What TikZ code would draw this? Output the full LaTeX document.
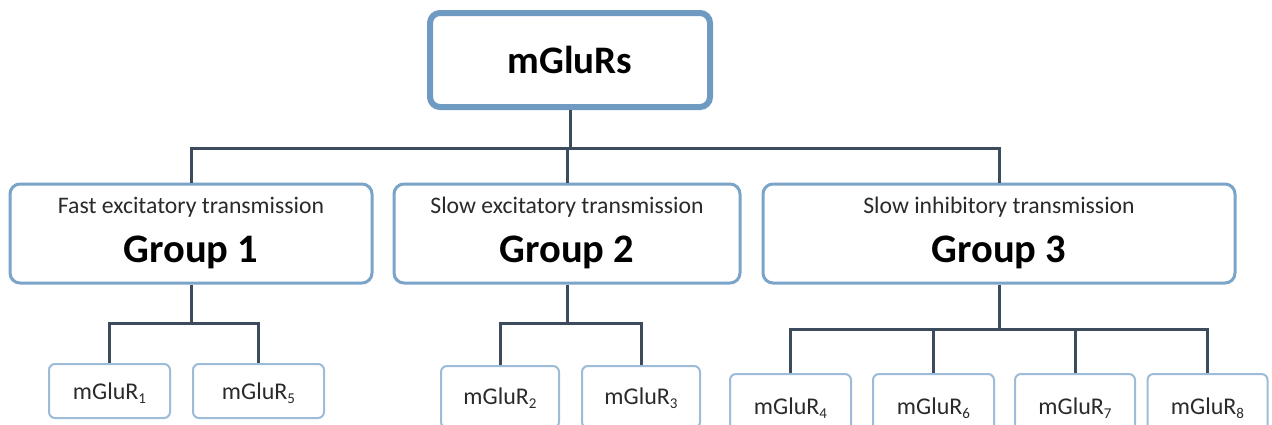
\documentclass[tikz,border=0pt]{standalone}
\usepackage{fontspec}
\setmainfont{Carlito}
\definecolor{topblue}{HTML}{6F9BC2}
\definecolor{grpblue}{HTML}{7BA4C9}
\definecolor{leafblue}{HTML}{9CBCD9}
\definecolor{conn}{HTML}{3C4C5C}
\definecolor{txt}{HTML}{2A2A2A}
\newcommand{\lsub}[1]{\raisebox{-4pt}{\fontsize{15}{15}\selectfont #1}}
\tikzset{
  topbox/.style={draw=topblue, line width=6pt, rounded corners=10pt, fill=white, inner sep=0pt},
  grpbox/.style={draw=grpblue, line width=3pt, rounded corners=10pt, fill=white, inner sep=0pt},
  leafbox/.style={draw=leafblue, line width=2pt, rounded corners=6pt, fill=white, inner sep=0pt},
  connline/.style={draw=conn, line width=3pt},
  subtxt/.style={anchor=base, inner sep=0pt, text=txt, font=\fontsize{23.7}{25}\selectfont},
  grptxt/.style={anchor=base, inner sep=0pt, text=black, font=\fontsize{40.5}{42}\selectfont\bfseries},
  leaftxt/.style={anchor=base, inner sep=0pt, text=txt, font=\fontsize{24}{26}\selectfont},
}
\begin{document}
\begin{tikzpicture}[x=1pt,y=-1pt]
\clip (0,0) rectangle (1272,424);
\fill[white] (0,0) rectangle (1272,424);

% top
\node[topbox, minimum width=280pt, minimum height=94pt] (top) at (570,60) {};
\node[anchor=base, inner sep=0pt, font=\fontsize{39}{41}\selectfont\bfseries] (toptxt) at (570,73) {mGluRs};

% groups
\node[grpbox, minimum width=362pt, minimum height=99pt] (g1) at (191,233.5) {};
\node[grpbox, minimum width=346pt, minimum height=99pt] (g2) at (567,233.5) {};
\node[grpbox, minimum width=472pt, minimum height=99pt] (g3) at (999,233.5) {};
\node[subtxt] (g1s) at (191,213) {Fast excitatory transmission};
\node[subtxt] (g2s) at (567,213) {Slow excitatory transmission};
\node[subtxt] (g3s) at (999,213) {Slow inhibitory transmission};
\node[grptxt] (g1t) at (191,262) {Group 1};
\node[grptxt] (g2t) at (567,262) {Group 2};
\node[grptxt] (g3t) at (999,262) {Group 3};

% leaves
\node[leafbox, minimum width=121pt, minimum height=54pt] (l1) at (109.5,391) {};
\node[leafbox, minimum width=131pt, minimum height=54pt] (l5) at (258.5,391) {};
\node[leafbox, minimum width=118pt, minimum height=62pt] (l2) at (500,397) {};
\node[leafbox, minimum width=118pt, minimum height=62pt] (l3) at (641,397) {};
\node[leafbox, minimum width=121pt, minimum height=66pt] (l4) at (790.5,407) {};
\node[leafbox, minimum width=121pt, minimum height=66pt] (l6) at (933.5,407) {};
\node[leafbox, minimum width=120pt, minimum height=66pt] (l7) at (1075,407) {};
\node[leafbox, minimum width=120pt, minimum height=66pt] (l8) at (1207.5,407) {};

\node[leaftxt] (l1t) at (109.5,399) {mGluR\lsub{1}};
\node[leaftxt] (l5t) at (258.5,399) {mGluR\lsub{5}};
\node[leaftxt] (l2t) at (500,404) {mGluR\lsub{2}};
\node[leaftxt] (l3t) at (641,404) {mGluR\lsub{3}};
\node[leaftxt] (l4t) at (790.5,414) {mGluR\lsub{4}};
\node[leaftxt] (l6t) at (933.5,414) {mGluR\lsub{6}};
\node[leaftxt] (l7t) at (1075,414) {mGluR\lsub{7}};
\node[leaftxt] (l8t) at (1207.5,414) {mGluR\lsub{8}};

% junctions
\coordinate (j0) at (570,148);
\coordinate (j1) at (191,323);
\coordinate (j2) at (567,323);
\coordinate (j3) at (999,329);

% connectors
\draw[connline] (top.south) -- (j0);
\draw[connline] (g1.north) -- (g1.north |- j0) -- (g3.north |- j0) -- (g3.north);
\draw[connline] (g2.north) -- (g2.north |- j0);

\draw[connline] (g1.south) -- (j1);
\draw[connline] (l1.north) -- (l1.north |- j1) -- (l5.north |- j1) -- (l5.north);

\draw[connline] (g2.south) -- (j2);
\draw[connline] (l2.north) -- (l2.north |- j2) -- (l3.north |- j2) -- (l3.north);

\draw[connline] (g3.south) -- (j3);
\draw[connline] (l4.north) -- (l4.north |- j3) -- (l8.north |- j3) -- (l8.north);
\draw[connline] (l6.north) -- (l6.north |- j3);
\draw[connline] (l7.north) -- (l7.north |- j3);
\end{tikzpicture}
\end{document}
